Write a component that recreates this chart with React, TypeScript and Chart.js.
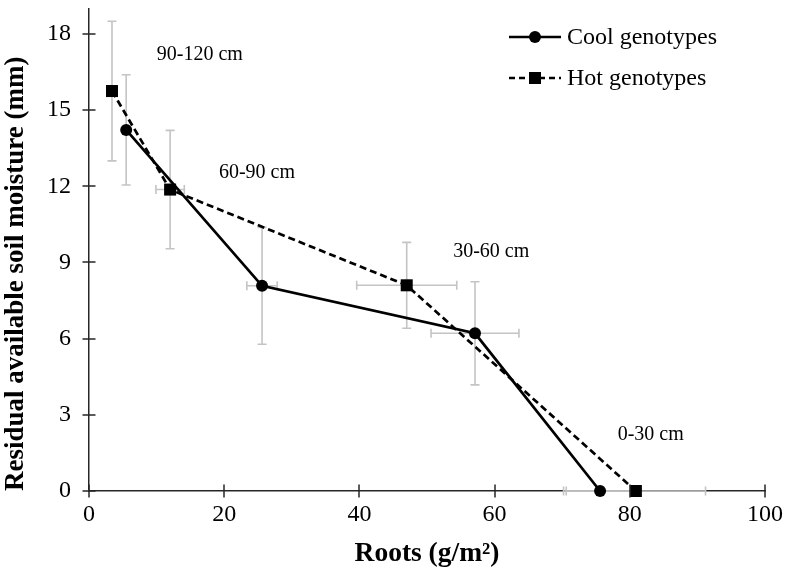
import React, { useEffect, useRef } from "react";
import { Chart, registerables } from "chart.js";
Chart.register(...registerables);

// ---- data ----
const seriesNames = ["Cool genotypes", "Hot genotypes"];
const coolRoots = [5.5, 25.6, 57.1, 75.6];
const coolMoisture = [14.22, 8.08, 6.21, 0];
const coolRootsErr = [0, 2.25, 6.5, 5.4];
const coolMoistureErr = [2.17, 2.3, 2.03, 0];
const hotRoots = [3.4, 12.0, 47.0, 80.9];
const hotMoisture = [15.75, 11.87, 8.1, 0];
const hotRootsErr = [0, 2.1, 7.4, 10.3];
const hotMoistureErr = [2.75, 2.33, 1.69, 0];
const xTicks = [0, 20, 40, 60, 80, 100];
const yTicks = [0, 3, 6, 9, 12, 15, 18];
const depthLabels = ["90-120 cm", "60-90 cm", "30-60 cm", "0-30 cm"];
const depthLabelX = [16.4, 24.85, 59.5, 83.1];
const depthLabelY = [17.17, 12.53, 9.42, 2.22];

const FONT = "'Liberation Serif', 'Times New Roman', Times, serif";
const ERR_COLOR = "#c4c4c4";
const AXIS_COLOR = "#262626";

const errX = [coolRootsErr, hotRootsErr];
const errY = [coolMoistureErr, hotMoistureErr];

const errorBarPlugin = {
  id: "errorBars",
  beforeDatasetsDraw(chart: any) {
    const ctx = chart.ctx;
    const xs = chart.scales.x;
    const ys = chart.scales.y;
    ctx.save();
    ctx.strokeStyle = ERR_COLOR;
    ctx.lineWidth = 1.6;
    const cap = 4.5;
    chart.data.datasets.forEach((ds: any, i: number) => {
      ds.data.forEach((p: any, j: number) => {
        const px = xs.getPixelForValue(p.x);
        const py = ys.getPixelForValue(p.y);
        const ey = errY[i][j];
        const ex = errX[i][j];
        if (ey > 0) {
          const t = ys.getPixelForValue(p.y + ey);
          const b = ys.getPixelForValue(p.y - ey);
          ctx.beginPath();
          ctx.moveTo(px, t); ctx.lineTo(px, b);
          ctx.moveTo(px - cap, t); ctx.lineTo(px + cap, t);
          ctx.moveTo(px - cap, b); ctx.lineTo(px + cap, b);
          ctx.stroke();
        }
        if (ex > 0) {
          const l = xs.getPixelForValue(p.x - ex);
          const r = xs.getPixelForValue(p.x + ex);
          ctx.beginPath();
          ctx.moveTo(l, py); ctx.lineTo(r, py);
          ctx.moveTo(l, py - cap); ctx.lineTo(l, py + cap);
          ctx.moveTo(r, py - cap); ctx.lineTo(r, py + cap);
          ctx.stroke();
        }
      });
    });
    ctx.restore();
  },
};

const axisTicksPlugin = {
  id: "crossTicks",
  afterDraw(chart: any) {
    const ctx = chart.ctx;
    const xs = chart.scales.x;
    const ys = chart.scales.y;
    const a = chart.chartArea;
    ctx.save();
    ctx.strokeStyle = AXIS_COLOR;
    ctx.lineWidth = 1.5;
    ctx.beginPath();
    xTicks.forEach((v) => {
      const px = Math.round(xs.getPixelForValue(v));
      ctx.moveTo(px, a.bottom - 6.5);
      ctx.lineTo(px, a.bottom + 6.5);
    });
    yTicks.forEach((v) => {
      const py = Math.round(ys.getPixelForValue(v));
      ctx.moveTo(a.left - 6.5, py);
      ctx.lineTo(a.left + 6.5, py);
    });
    ctx.stroke();

    // depth annotations
    ctx.fillStyle = "#000";
    ctx.font = `20px ${FONT}`;
    ctx.textAlign = "center";
    ctx.textBaseline = "middle";
    depthLabels.forEach((t, i) => {
      ctx.fillText(t, xs.getPixelForValue(depthLabelX[i]), ys.getPixelForValue(depthLabelY[i]));
    });

    // legend
    const lx0 = 509, lx1 = 561, mx = 535, tx = 567;
    const rows = [37, 78];
    ctx.strokeStyle = "#000";
    ctx.fillStyle = "#000";
    ctx.lineWidth = 2.5;
    ctx.setLineDash([]);
    ctx.beginPath();
    ctx.moveTo(lx0, rows[0]); ctx.lineTo(lx1, rows[0]);
    ctx.stroke();
    ctx.beginPath();
    ctx.arc(mx, rows[0], 6, 0, Math.PI * 2);
    ctx.fill();
    ctx.setLineDash([6, 4]);
    ctx.beginPath();
    ctx.moveTo(lx0, rows[1]); ctx.lineTo(lx1, rows[1]);
    ctx.stroke();
    ctx.setLineDash([]);
    ctx.fillRect(mx - 6, rows[1] - 6, 12, 12);
    ctx.font = `24px ${FONT}`;
    ctx.textAlign = "left";
    ctx.textBaseline = "middle";
    ctx.fillText(seriesNames[0], tx, rows[0] + 1);
    ctx.fillText(seriesNames[1], tx, rows[1] + 1);
    ctx.restore();
  },
};

export default function App() {
  const ref = useRef<HTMLCanvasElement | null>(null);
  useEffect(() => {
    document.body.style.margin = "0";
    const canvas = ref.current;
    if (!canvas) return;
    const chart = new Chart(canvas, {
      type: "line",
      data: {
        datasets: [
          {
            label: seriesNames[0],
            data: coolRoots.map((x, i) => ({ x, y: coolMoisture[i] })),
            borderColor: "#000",
            backgroundColor: "#000",
            borderWidth: 2.7,
            pointStyle: "circle",
            pointRadius: 6,
            pointBorderWidth: 0,
            clip: false,
            tension: 0,
          },
          {
            label: seriesNames[1],
            data: hotRoots.map((x, i) => ({ x, y: hotMoisture[i] })),
            borderColor: "#000",
            backgroundColor: "#000",
            borderWidth: 2.7,
            borderDash: [7, 4],
            pointStyle: "rect",
            pointRadius: 8.5,
            pointBorderWidth: 0,
            clip: false,
            tension: 0,
          },
        ] as any,
      },
      options: {
        animation: false,
        responsive: false,
        devicePixelRatio: 1,
        layout: { padding: { top: 3, right: 21, left: 0, bottom: 0 } },
        plugins: { legend: { display: false }, tooltip: { enabled: false } },
        scales: {
          x: {
            type: "linear",
            min: 0,
            max: 100,
            afterBuildTicks: (s: any) => { s.ticks = xTicks.map((v) => ({ value: v })); },
            afterFit: (s: any) => {
              s.height = 86;
              s.paddingLeft = 0; s.paddingRight = 0; s.paddingTop = 0; s.paddingBottom = 0;
            },
            grid: { display: false, drawTicks: false },
            border: { display: true, color: AXIS_COLOR, width: 1.5 },
            ticks: { color: "#000", font: { family: FONT, size: 24 }, padding: 9, maxRotation: 0 },
            title: {
              display: true,
              text: "Roots (g/m²)",
              color: "#000",
              font: { family: FONT, size: 27.5, weight: "bold" },
              padding: { top: 0, bottom: 7 },
            },
          },
          y: {
            type: "linear",
            min: 0,
            max: 19,
            afterBuildTicks: (s: any) => { s.ticks = yTicks.map((v) => ({ value: v })); },
            afterFit: (s: any) => {
              s.width = 89;
              s.paddingLeft = 0; s.paddingRight = 0; s.paddingTop = 0; s.paddingBottom = 0;
            },
            grid: { display: false, drawTicks: false },
            border: { display: true, color: AXIS_COLOR, width: 1.5 },
            ticks: { color: "#000", font: { family: FONT, size: 24 }, padding: 18 },
            title: {
              display: true,
              align: "start",
              text: "Residual available soil moisture (mm)",
              color: "#000",
              font: { family: FONT, size: 27, weight: "bold" },
              padding: { top: 0, bottom: 0 },
            },
          },
        },
      } as any,
      plugins: [errorBarPlugin, axisTicksPlugin],
    });
    return () => chart.destroy();
  }, []);
  return (
    <div style={{ position: "absolute", left: 0, top: 0, width: 786, height: 577 }}>
      <canvas ref={ref} width={786} height={577} />
    </div>
  );
}
